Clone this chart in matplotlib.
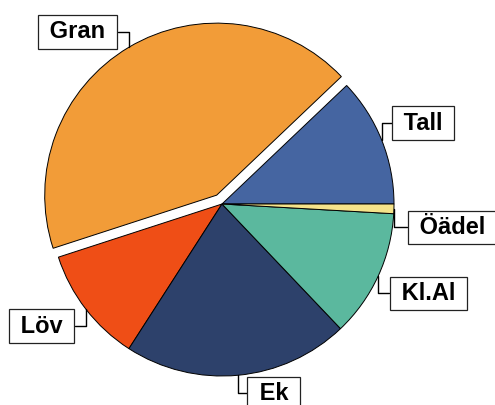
import numpy as np
import matplotlib.pyplot as plt

# andelar (%) per tradslag, moturs fran 0 grader
tradslag = ['Tall', 'Gran', 'Löv', 'Ek', 'Kl.Al', 'Öädel']
andel = [12.1, 42.9, 10.9, 21.2, 12.0, 0.9]
farger = ['#4565A1', '#F29C38', '#EF4E16', '#2D416B', '#5BB89E', '#F5E38A']
explode = [0, 0.06, 0, 0, 0, 0]

# etikettpositioner (mitt av rutan)
etikett_pos = {
    'Tall': (1.17, 0.47),
    'Gran': (-0.84, 1.0),
    'Löv': (-1.05, -0.71),
    'Ek': (0.30, -1.10),
    'Kl.Al': (1.20, -0.52),
    'Öädel': (1.34, -0.135),
}

plt.rcParams['font.family'] = ['Liberation Sans', 'DejaVu Sans']

fig = plt.figure(figsize=(4.95, 4.05), dpi=100)
ax = fig.add_axes([0, 0, 1, 1])

wedges, _ = ax.pie(andel, colors=farger, startangle=0, counterclock=True,
                   explode=explode, radius=1.0,
                   wedgeprops=dict(edgecolor='black', linewidth=0.7))

ax.set_xlim(-222 / 172, (495 - 222) / 172)
ax.set_ylim(-(405 - 204) / 172, 204 / 172)
ax.set_aspect('auto')
ax.axis('off')

for w, namn, ex in zip(wedges, tradslag, explode):
    mitt = np.deg2rad((w.theta1 + w.theta2) / 2)
    cx, cy = w.center
    px = cx + w.r * np.cos(mitt)
    py = cy + w.r * np.sin(mitt)
    ax.annotate(' ' + namn + ' ', xy=(px, py), xytext=etikett_pos[namn],
                ha='center', va='center', fontsize=17, fontweight='bold',
                bbox=dict(boxstyle='square,pad=0.22', facecolor='white',
                          edgecolor='#222222', linewidth=0.9),
                arrowprops=dict(arrowstyle='-', color='black', linewidth=1,
                                shrinkA=0, shrinkB=0,
                                connectionstyle='angle,angleA=0,angleB=90,rad=0'))

fig.savefig('out.png', dpi=100)
